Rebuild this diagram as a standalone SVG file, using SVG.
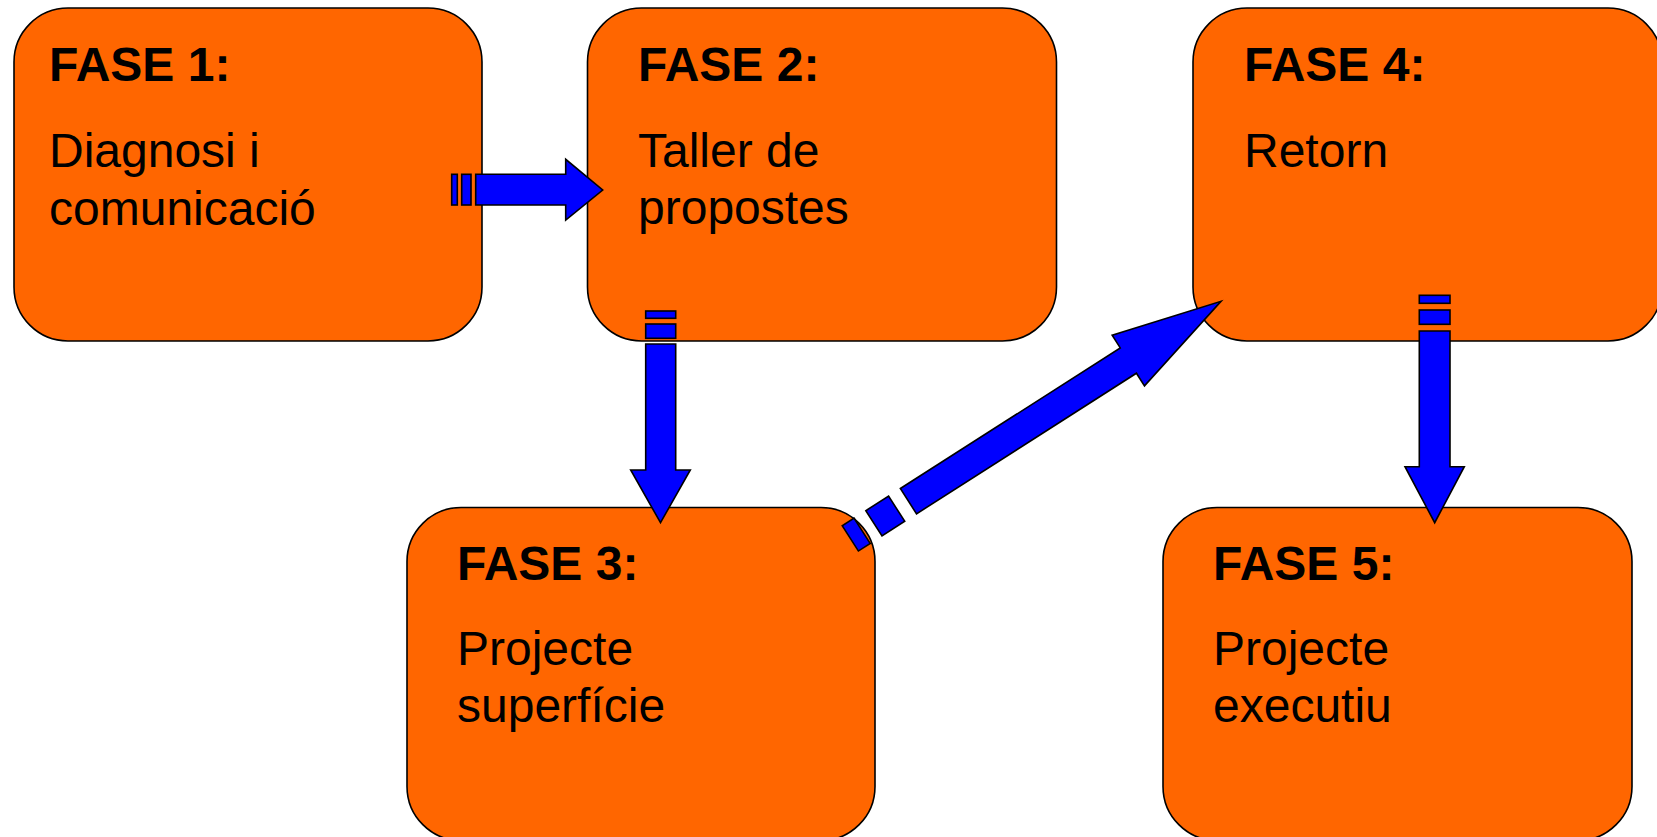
<svg xmlns="http://www.w3.org/2000/svg" width="1657" height="837" viewBox="0 0 1657 837">
<style>
.box{fill:#FF6600;stroke:#000;stroke-width:1.6}
.t{font-family:"Liberation Sans",Arial,sans-serif;font-size:48px;fill:#000}
.b{font-weight:bold}
.arr{fill:#0000FF;stroke:#000;stroke-width:1.6;stroke-linejoin:miter}
</style>
<rect width="1657" height="837" fill="#fff"/>
<g id="fase1">
<rect class="box" x="14" y="8" width="468" height="333" rx="54" ry="54"/>
<text class="t b" x="49" y="81">FASE 1:</text>
<text class="t" x="49" y="167">Diagnosi i</text>
<text class="t" x="49" y="225">comunicació</text>
</g>
<g id="fase2">
<rect class="box" x="587.5" y="8" width="469" height="333" rx="54" ry="54"/>
<text class="t b" x="638" y="81">FASE 2:</text>
<text class="t" x="638" y="167">Taller de</text>
<text class="t" x="638" y="224">propostes</text>
</g>
<g id="fase4">
<rect class="box" x="1193" y="8" width="469" height="333" rx="54" ry="54"/>
<text class="t b" x="1244" y="81">FASE 4:</text>
<text class="t" x="1244" y="167">Retorn</text>
</g>
<g id="fase3">
<rect class="box" x="407" y="507.5" width="468" height="333" rx="54" ry="54"/>
<text class="t b" x="457" y="580">FASE 3:</text>
<text class="t" x="457" y="665">Projecte</text>
<text class="t" x="457" y="722">superfície</text>
</g>
<g id="fase5">
<rect class="box" x="1163" y="507.5" width="469" height="333" rx="54" ry="54"/>
<text class="t b" x="1213" y="580">FASE 5:</text>
<text class="t" x="1213" y="665">Projecte</text>
<text class="t" x="1213" y="722">executiu</text>
</g>
<g id="connectors">
<g id="a12">
<rect class="arr" x="451.7" y="174.3" width="5.6" height="30.7"/>
<rect class="arr" x="461.7" y="174.3" width="9.3" height="30.7"/>
<polygon class="arr" points="475.7,174.3 565.7,174.3 565.7,159.3 602.7,190 565.7,220 565.7,205 475.7,205"/>
</g>
<g id="a23">
<rect class="arr" x="645.7" y="311" width="30" height="7.3"/>
<rect class="arr" x="645.7" y="324" width="30" height="14.3"/>
<polygon class="arr" points="645.7,344 675.7,344 675.7,470 690.3,470 660.5,522.7 630.7,470 645.7,470"/>
</g>
<g id="a34" transform="translate(1221,301.3) rotate(-32.6)">
<rect class="arr" x="-440" y="-15" width="14" height="30"/>
<rect class="arr" x="-412" y="-15" width="27" height="30"/>
<polygon class="arr" points="-371,-15 -110,-15 -110,-30 0,0 -110,30 -110,15 -371,15"/>
</g>
<g id="a45">
<rect class="arr" x="1419.3" y="295.3" width="30.7" height="8"/>
<rect class="arr" x="1419.3" y="310" width="30.7" height="14.3"/>
<polygon class="arr" points="1419.3,331 1450,331 1450,466.7 1464.3,466.7 1434.7,522.7 1405,466.7 1419.3,466.7"/>
</g>
</g>
</svg>
